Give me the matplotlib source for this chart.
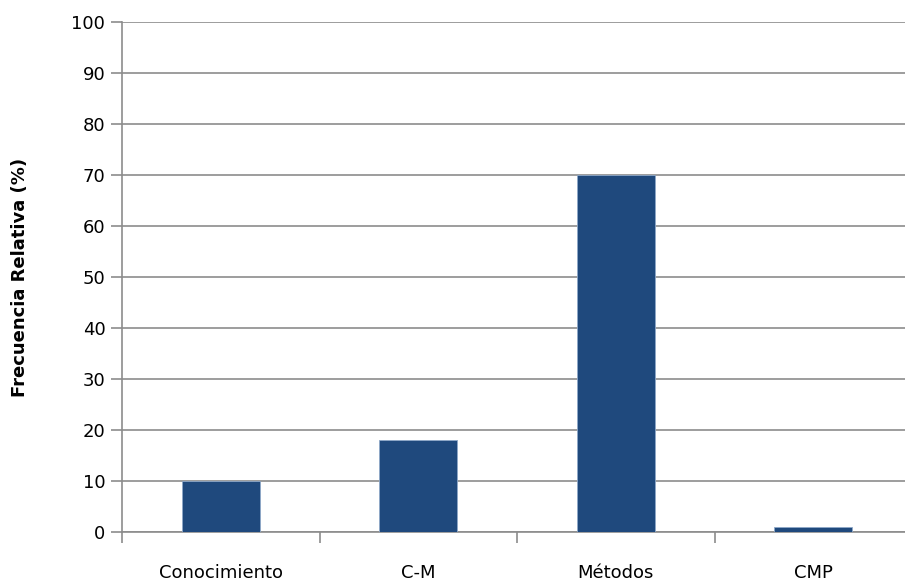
import matplotlib.pyplot as plt
import numpy as np

categorias = ['Conocimiento', 'C-M', 'Métodos', 'CMP']
frecuencias = [10, 18, 70, 1]

fig = plt.figure(figsize=(9.05, 5.85), dpi=100)
ax = fig.add_axes([122/905, 53/585, 790/905, 510/585])

x = np.arange(len(categorias))
ax.bar(x, frecuencias, width=0.395, color='#1F497D', edgecolor='#8FA8C8', linewidth=0.6, zorder=3)

gris = '#8C8C8C'
ax.set_xlim(-0.5, len(categorias) - 0.5)
ax.set_ylim(0, 100)
ax.set_yticks(np.arange(0, 101, 10))
ax.yaxis.grid(True, color=gris, linewidth=1.2)
ax.set_axisbelow(True)

ax.set_xticks(np.arange(-0.5, len(categorias), 1.0))
ax.set_xticklabels([])
ax.set_xticks(x, minor=True)
ax.set_xticklabels(categorias, minor=True, fontsize=13)
ax.tick_params(axis='x', which='minor', length=0, pad=23)
ax.tick_params(axis='x', which='major', length=8, width=1.2, color=gris)
ax.tick_params(axis='y', length=8, width=1.2, color=gris, labelsize=13, pad=4)

for s in ['top', 'right']:
    ax.spines[s].set_visible(False)
for s in ['left', 'bottom']:
    ax.spines[s].set_color(gris)
    ax.spines[s].set_linewidth(1.2)

fig.text(20/905, (53 + 255)/585, 'Frecuencia Relativa (%)', rotation=90,
         ha='center', va='center', fontsize=13, fontweight='bold')

fig.savefig('out.png', dpi=100)
